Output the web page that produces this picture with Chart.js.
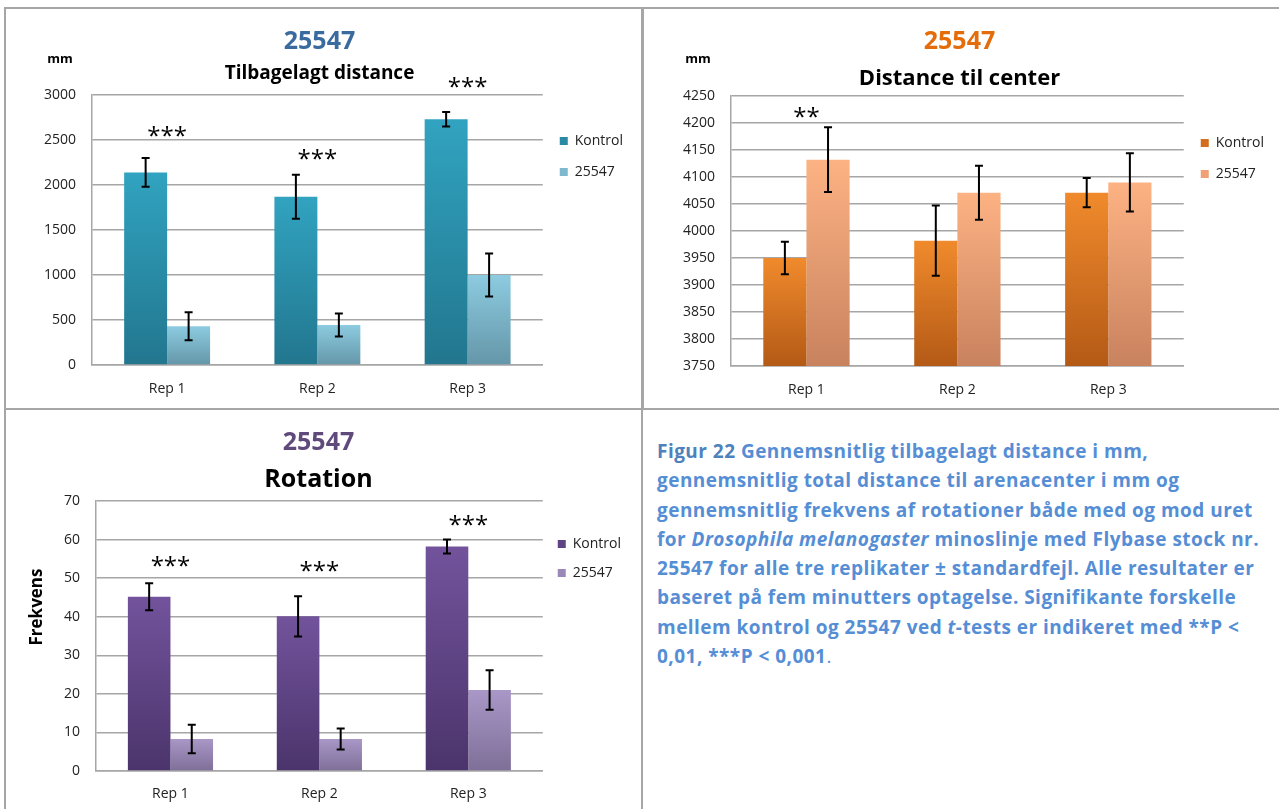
<!DOCTYPE html>
<html>
<head>
<meta charset="utf-8">
<script src="https://cdn.jsdelivr.net/npm/chart.js@4.4.1/dist/chart.umd.min.js"></script>
<style>
html,body{margin:0;padding:0;background:#fff;width:1279px;height:809px;overflow:hidden;position:relative;font-family:'Open Sans',sans-serif;}
.box{position:absolute;border:2px solid #A6A6A6;box-sizing:border-box;}
canvas{position:absolute;}
#caption{position:absolute;left:657px;top:437px;font-weight:700;font-size:19px;line-height:29.3px;color:#558ED5;white-space:nowrap;letter-spacing:0.47px;}
#caption .fig{color:#4F81BD;}
#caption .np{font-weight:400;}
</style>
</head>
<body>
<div class="box" style="left:4px;top:7px;width:639px;height:403px"></div>
<div class="box" style="left:642px;top:7px;width:660px;height:403px"></div>
<div class="box" style="left:4px;top:408px;width:639px;height:420px"></div>
<canvas id="c1" width="635" height="399" style="left:6px;top:9px"></canvas>
<canvas id="c2" width="634" height="399" style="left:645px;top:9px"></canvas>
<canvas id="c3" width="635" height="399" style="left:6px;top:410px"></canvas>
<div id="caption"><span class="fig">Figur 22</span> Gennemsnitlig tilbagelagt distance i mm,<br>gennemsnitlig total distance til arenacenter i mm og<br>gennemsnitlig frekvens af rotationer både med og mod uret<br>for <i>Drosophila melanogaster</i> minoslinje med Flybase stock nr.<br>25547 for alle tre replikater ± standardfejl. Alle resultater er<br>baseret på fem minutters optagelse. Signifikante forskelle<br>mellem kontrol og 25547 ved <i>t</i>-tests er indikeret med **P &lt;<br>0,01, ***P &lt; 0,001<span class="np">.</span></div>
<script>
// ---------- DATA ----------
const categories = ['Rep 1', 'Rep 2', 'Rep 3'];
const seriesNames = ['Kontrol', '25547'];

const distKontrol = [2140, 1870, 2730];
const distKontrolSE = [160, 245, 80];
const dist25547 = [430, 445, 1000];
const dist25547SE = [155, 128, 240];
const distSig = ['***', '***', '***'];
const distSigPos = [2580, 2320, 3120];
const distAxis = [0, 3000, 500];

const centerKontrol = [3950, 3982, 4071];
const centerKontrolSE = [30, 65, 27];
const center25547 = [4132, 4071, 4090];
const center25547SE = [60, 50, 54];
const centerSig = ['**', '', ''];
const centerSigPos = [4217, 4217, 4217];
const centerAxis = [3750, 4250, 50];

const rotKontrol = [45.2, 40.1, 58.2];
const rotKontrolSE = [3.5, 5.2, 1.8];
const rot25547 = [8.3, 8.3, 21.0];
const rot25547SE = [3.7, 2.7, 5.1];
const rotSig = ['***', '***', '***'];
const rotSigPos = [53.9, 52.6, 64.6];
const rotAxis = [0, 70, 10];

// ---------- STYLE ----------
Chart.defaults.font.family = "'Open Sans', sans-serif";

function grad(top, bottom) {
  return function (c) {
    const chart = c.chart;
    if (!chart.chartArea || c.type !== 'data') return top;
    const ys = chart.scales.y;
    const y0 = ys.getPixelForValue(c.raw);
    const y1 = ys.getPixelForValue(ys.min);
    if (!isFinite(y0) || !isFinite(y1) || y1 - y0 < 1) return top;
    const g = chart.ctx.createLinearGradient(0, y0, 0, y1);
    g.addColorStop(0, top);
    g.addColorStop(1, bottom);
    return g;
  };
}

const errorBars = {
  id: 'errorBars',
  afterDatasetsDraw(chart) {
    const ctx = chart.ctx, ys = chart.scales.y;
    chart.data.datasets.forEach((ds, di) => {
      const meta = chart.getDatasetMeta(di);
      meta.data.forEach((bar, i) => {
        const v = ds.data[i], e = ds.errors[i];
        const t = ys.getPixelForValue(v + e), b = ys.getPixelForValue(v - e);
        ctx.save();
        ctx.strokeStyle = '#000';
        ctx.lineWidth = 2;
        ctx.beginPath();
        ctx.moveTo(bar.x, t); ctx.lineTo(bar.x, b);
        ctx.moveTo(bar.x - 4, t); ctx.lineTo(bar.x + 4, t);
        ctx.moveTo(bar.x - 4, b); ctx.lineTo(bar.x + 4, b);
        ctx.stroke();
        ctx.restore();
      });
    });
  }
};

const sigStars = {
  id: 'sigStars',
  afterDatasetsDraw(chart, args, opts) {
    const ctx = chart.ctx, xs = chart.scales.x, ys = chart.scales.y;
    ctx.save();
    ctx.fillStyle = '#000';
    ctx.font = "24px 'Open Sans'";
    ctx.textAlign = 'center';
    ctx.textBaseline = 'alphabetic';
    opts.labels.forEach((s, i) => {
      if (!s) return;
      ctx.fillText(s, xs.getPixelForValue(i), ys.getPixelForValue(opts.values[i]) + 11);
    });
    ctx.restore();
  }
};

const unitLabel = {
  id: 'unitLabel',
  afterDraw(chart, args, opts) {
    const ctx = chart.ctx, a = chart.chartArea;
    ctx.save();
    ctx.fillStyle = '#000';
    ctx.font = 'bold ' + opts.size + "px 'Open Sans'";
    ctx.textAlign = 'center';
    ctx.textBaseline = 'middle';
    ctx.translate(a.left + opts.dx, a.top + opts.dy);
    ctx.rotate(opts.rotate || 0);
    ctx.fillText(opts.text, 0, 0);
    ctx.restore();
  }
};

function build(id, p) {
  return new Chart(document.getElementById(id), {
    type: 'bar',
    data: {
      labels: categories,
      datasets: [
        { label: seriesNames[0], data: p.a, errors: p.aErr, backgroundColor: grad(p.colA[0], p.colA[1]), borderWidth: 0 },
        { label: seriesNames[1], data: p.b, errors: p.bErr, backgroundColor: grad(p.colB[0], p.colB[1]), borderWidth: 0 }
      ]
    },
    options: {
      responsive: false,
      animation: false,
      devicePixelRatio: 1,
      layout: { padding: { top: 18, right: p.padRight, bottom: 0, left: 0 } },
      datasets: { bar: { categoryPercentage: 0.572, barPercentage: 1 } },
      scales: {
        x: {
          grid: { display: false },
          border: { display: true, color: '#A6A6A6', width: 1.5 },
          ticks: { color: '#222', font: { size: 14 }, padding: p.xPad },
          afterFit: s => { s.height = p.xH; }
        },
        y: {
          min: p.axis[0], max: p.axis[1],
          ticks: { stepSize: p.axis[2], color: '#222', font: { size: 14 }, padding: 16, format: { useGrouping: false } },
          grid: { color: '#A6A6A6', lineWidth: 1.5, drawTicks: false },
          border: { display: true, color: '#A6A6A6', width: 1.5 },
          afterFit: s => { s.width = p.yW; }
        }
      },
      plugins: {
        title: { display: true, text: '25547', color: p.titleColor, font: { size: 25, weight: 'bold' }, padding: { top: 0, bottom: 0 } },
        subtitle: { display: true, text: p.subtitle, color: '#000', font: { size: p.subSize, weight: 'bold' }, padding: { top: p.subTop, bottom: p.subBottom } },
        legend: {
          position: 'right',
          align: 'start',
          title: { display: true, text: '', font: { size: 12 }, padding: { top: p.legTop, bottom: 0 } },
          labels: {
            boxWidth: 8, boxHeight: 8, padding: p.legPad, color: '#222', font: { size: 14 },
            generateLabels(chart) {
              const items = Chart.defaults.plugins.legend.labels.generateLabels(chart);
              items.forEach((it, i) => { it.fillStyle = p.legCol[i]; it.strokeStyle = p.legCol[i]; it.lineWidth = 0; });
              return items;
            }
          }
        },
        tooltip: { enabled: false },
        sigStars: { labels: p.sig, values: p.sigPos },
        unitLabel: p.unit
      }
    },
    plugins: [errorBars, sigStars, unitLabel]
  });
}

build('c1', {
  a: distKontrol, aErr: distKontrolSE, b: dist25547, bErr: dist25547SE,
  sig: distSig, sigPos: distSigPos, axis: distAxis,
  colA: ['#31A3C0', '#22768E'], colB: ['#8DCBE0', '#6496A8'], legCol: ['#2A89A4', '#7DB8CC'],
  titleColor: '#3A6B9F', subtitle: 'Tilbagelagt distance', subSize: 19, subTop: 5.6, subBottom: 9.6,
  padRight: 8, yW: 86, xH: 43, xPad: 8, legTop: 75.6, legPad: 17,
  unit: { text: 'mm', size: 13, dx: -32, dy: -36 }
});

build('c2', {
  a: centerKontrol, aErr: centerKontrolSE, b: center25547, bErr: center25547SE,
  sig: centerSig, sigPos: centerSigPos, axis: centerAxis,
  colA: ['#F08A2C', '#B45A16'], colB: ['#FDB283', '#C8825E'], legCol: ['#D46E1E', '#EFA075'],
  titleColor: '#E46C0A', subtitle: 'Distance til center', subSize: 22, subTop: 8.8, subBottom: 3.8,
  padRight: 5, yW: 86, xH: 42, xPad: 8, legTop: 77.6, legPad: 17,
  unit: { text: 'mm', size: 13, dx: -33, dy: -37 }
});

build('c3', {
  a: rotKontrol, aErr: rotKontrolSE, b: rot25547, bErr: rot25547SE,
  sig: rotSig, sigPos: rotSigPos, axis: rotAxis,
  colA: ['#72539C', '#4B346B'], colB: ['#A997C7', '#7E6F98'], legCol: ['#5F4484', '#9A89B8'],
  titleColor: '#604A7B', subtitle: 'Rotation', subSize: 25, subTop: 7, subBottom: 6,
  padRight: 10, yW: 90, xH: 38, xPad: 7, legTop: 79.6, legPad: 15,
  unit: { text: 'Frekvens', size: 17, dx: -59, dy: 106, rotate: -Math.PI / 2 }
});
</script>
</body>
</html>
